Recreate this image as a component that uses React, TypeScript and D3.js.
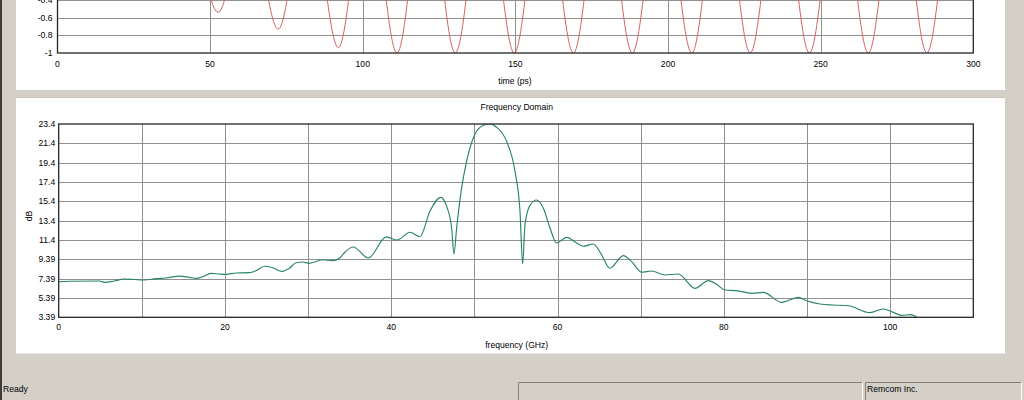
import React from "react";
import * as d3 from "d3";

// ---------- Time domain (top plot, mostly scrolled out of view) ----------
const timeTicks = [0, 50, 100, 150, 200, 250, 300];
const timeTickLabels = ["0", "50", "100", "150", "200", "250", "300"];
const ampTicks = [-1, -0.8, -0.6, -0.4, -0.2, 0, 0.2, 0.4, 0.6, 0.8, 1];
const ampTickLabels = ["-1", "-0.8", "-0.6", "-0.4", "-0.2", "0", "0.2", "0.4", "0.6", "0.8", "1"];
// extrema of the red waveform (time in ps, amplitude)
const timePs = [0, 4.5, 14.2, 23.8, 33.4, 43.0, 52.6, 62.4, 72.3, 82.1, 92.0, 101.6, 111.2, 120.8, 130.3, 140.0, 149.6, 159.3, 169.0, 178.6, 188.3, 198.0, 207.8, 217.3, 226.9, 236.6, 246.3, 256.0, 265.6, 275.2, 284.8, 294.4, 300];
const timeAmp = [0, 0.02, -0.05, 0.12, -0.33, 0.44, -0.54, 0.64, -0.73, 0.85, -0.94, 0.98, -1, 1, -1, 1, -1, 1, -1, 1, -1, 1, -1, 1, -1, 1, -1, 1, -1, 1, -1, 1, -0.25];

// ---------- Frequency domain (bottom plot) ----------
const freqTicks = [0, 20, 40, 60, 80, 100];
const freqTickLabels = ["0", "20", "40", "60", "80", "100"];
const freqGrid = [10, 20, 30, 40, 50, 60, 70, 80, 90, 100];
const dbTicks = [3.39, 5.39, 7.39, 9.39, 11.4, 13.4, 15.4, 17.4, 19.4, 21.4, 23.4];
const dbTickLabels = ["3.39", "5.39", "7.39", "9.39", "11.4", "13.4", "15.4", "17.4", "19.4", "21.4", "23.4"];
const freqGHz = [0.08, 1.28, 4.89, 5.49, 6.69, 7.89, 9.1, 10.3, 11.7, 12.9, 14.51, 15.71, 16.51, 17.31, 18.32, 19.32, 20.12, 21.32, 22.93, 23.73, 24.73, 25.73, 26.86, 27.74, 28.54, 29.34, 30.14, 31.75, 32.95, 33.75, 34.47, 35.43, 37.24, 39.4, 40.7, 42.25, 43.45, 44.65, 45.94, 46.66, 47.26, 47.54, 47.86, 48.46, 49.06, 49.95, 51.07, 51.79, 52.67, 53.87, 54.88, 55.48, 55.8, 56.08, 56.68, 57.48, 58.28, 59.09, 59.89, 61.09, 62.29, 63.09, 64.3, 65.2, 66.3, 67.9, 68.91, 70.11, 71.31, 72.92, 74.52, 76.52, 78.13, 79.13, 80.13, 81.54, 83.34, 84.74, 86.95, 88.95, 89.95, 91.56, 93.16, 94.97, 97.57, 99.17, 100.38, 101.38, 102.38, 103.18];
const dbValues = [7.08, 7.12, 7.15, 7.01, 7.15, 7.35, 7.3, 7.25, 7.39, 7.46, 7.66, 7.53, 7.42, 7.59, 7.94, 7.87, 7.84, 7.98, 8.01, 8.21, 8.67, 8.52, 8.15, 8.46, 9.04, 9.11, 8.98, 9.35, 9.25, 9.5, 10.18, 10.67, 9.53, 11.72, 11.39, 12.19, 11.73, 14.36, 15.81, 14.88, 12.63, 9.94, 12.63, 16.78, 19.54, 22.13, 23.27, 23.4, 23.06, 21.61, 18.5, 14.36, 8.91, 12.98, 14.98, 15.53, 14.7, 12.63, 11.08, 11.67, 11.08, 10.74, 10.98, 10.0, 8.47, 9.77, 9.15, 8.05, 8.18, 7.77, 7.87, 6.39, 7.18, 6.8, 6.22, 6.15, 5.87, 5.97, 4.94, 5.46, 5.11, 4.77, 4.66, 4.59, 3.87, 4.25, 3.9, 3.59, 3.66, 3.45];

const FONT = "'Liberation Sans', Arial, sans-serif";
const FS = 8.6;
const GRID = "#909090";
const FRAME = "#262626";
const BG = "#d4d0c8";

const crisp = (v: number) => Math.round(v) + 0.5;

export default function App() {
  const W = 1024;
  const H = 400;
  const tp = { left: 57.5, right: 973.3, top: -123.7, bottom: 53 };
  const bp = { left: 58.7, right: 973.3, top: 124, bottom: 317.3 };

  const xT = d3.scaleLinear().domain([0, 300]).range([tp.left, tp.right]);
  const yT = d3.scaleLinear().domain([-1, 1]).range([tp.bottom, tp.top]);
  const xF = d3.scaleLinear().domain([0, 110]).range([bp.left, bp.right]);
  const yF = d3.scaleLinear().domain([3.39, 23.4]).range([bp.bottom, bp.top]);

  const redPath =
    d3
      .line<number>()
      .x((_, i) => xT(timePs[i]))
      .y((d) => yT(d))
      .curve(d3.curveMonotoneX)(timeAmp) || "";

  const greenPath =
    d3
      .line<number>()
      .x((_, i) => xF(freqGHz[i]))
      .y((d) => yF(d))
      .curve(d3.curveMonotoneX)(dbValues) || "";

  // only the tick labels of the top plot that lie (at least partly) in the visible window
  const visibleAmp = ampTicks.map((v, i) => ({ v, label: ampTickLabels[i] })).filter((d) => yT(d.v) > -2);

  return (
    <svg
      width={W}
      height={H}
      viewBox={`0 0 ${W} ${H}`}
      style={{ position: "absolute", left: 0, top: 0, display: "block" }}
      fontFamily={FONT}
      fontSize={FS}
    >
      <defs>
        <clipPath id="clipTop">
          <rect x={tp.left} y={tp.top} width={tp.right - tp.left} height={tp.bottom - tp.top} />
        </clipPath>
        <clipPath id="clipBot">
          <rect x={bp.left} y={bp.top} width={bp.right - bp.left} height={bp.bottom - bp.top} />
        </clipPath>
      </defs>

      {/* window background */}
      <rect x={0} y={0} width={W} height={H} fill={BG} />
      <rect x={0} y={0} width={2} height={H} fill="#3c3c3c" />

      {/* panels */}
      <rect x={16} y={-2} width={989} height={92} fill="#ffffff" />
      <rect x={16} y={98} width={989} height={255.5} fill="#ffffff" />
      <line x1={16} x2={1005} y1={97.5} y2={97.5} stroke="#c8c4bc" />

      {/* ---------- top plot ---------- */}
      <g>
        {ampTicks.slice(1, -1).map((v) => (
          <line key={"ha" + v} x1={tp.left} x2={tp.right} y1={crisp(yT(v))} y2={crisp(yT(v))} stroke={GRID} />
        ))}
        {timeTicks.slice(1, -1).map((t) => (
          <line key={"vt" + t} x1={crisp(xT(t))} x2={crisp(xT(t))} y1={tp.top} y2={tp.bottom} stroke={GRID} />
        ))}
        <path d={redPath} fill="none" stroke="#d46464" strokeWidth={1} clipPath="url(#clipTop)" />
        <rect
          x={tp.left}
          y={tp.top}
          width={tp.right - tp.left}
          height={tp.bottom - tp.top}
          fill="none"
          stroke={FRAME}
          strokeWidth={1.3}
        />
        {visibleAmp.map((d) => (
          <text key={"la" + d.v} x={tp.left - 5} y={yT(d.v)} dy="0.36em" textAnchor="end" fill="#000">
            {d.label}
          </text>
        ))}
        {timeTicks.map((t, i) => (
          <text key={"lt" + t} x={xT(t)} y={66.7} textAnchor="middle" fill="#000">
            {timeTickLabels[i]}
          </text>
        ))}
        <text x={515} y={84} textAnchor="middle" fill="#000">
          time (ps)
        </text>
      </g>

      {/* ---------- bottom plot ---------- */}
      <g>
        <text x={516.7} y={109.5} textAnchor="middle" fill="#000">
          Frequency Domain
        </text>
        {dbTicks.slice(1, -1).map((v) => (
          <line key={"hd" + v} x1={bp.left} x2={bp.right} y1={crisp(yF(v))} y2={crisp(yF(v))} stroke={GRID} />
        ))}
        {freqGrid.map((f) => (
          <line key={"vf" + f} x1={crisp(xF(f))} x2={crisp(xF(f))} y1={bp.top} y2={bp.bottom} stroke={GRID} />
        ))}
        <path d={greenPath} fill="none" stroke="#2a8564" strokeWidth={1.15} clipPath="url(#clipBot)" />
        <rect
          x={bp.left}
          y={bp.top}
          width={bp.right - bp.left}
          height={bp.bottom - bp.top}
          fill="none"
          stroke={FRAME}
          strokeWidth={1.3}
        />
        {dbTicks.map((v, i) => (
          <text key={"ld" + v} x={bp.left - 3.5} y={yF(v)} dy="0.36em" textAnchor="end" fill="#000">
            {dbTickLabels[i]}
          </text>
        ))}
        {freqTicks.map((f, i) => (
          <text key={"lf" + f} x={xF(f)} y={330} textAnchor="middle" fill="#000">
            {freqTickLabels[i]}
          </text>
        ))}
        <text x={516.7} y={348} textAnchor="middle" fill="#000">
          frequency (GHz)
        </text>
        <text x={31.5} y={216} textAnchor="middle" fill="#000" transform="rotate(-90 31.5 216)">
          dB
        </text>
      </g>

      {/* ---------- status bar ---------- */}
      <g>
        <text x={3} y={392} fill="#000">
          Ready
        </text>
        {/* pane 1 */}
        <line x1={518.5} x2={862} y1={382.5} y2={382.5} stroke="#808080" />
        <line x1={518.5} x2={518.5} y1={382.5} y2={400} stroke="#808080" />
        <line x1={862.5} x2={862.5} y1={382.5} y2={400} stroke="#ffffff" />
        {/* pane 2 */}
        <line x1={865.5} x2={1021} y1={382.5} y2={382.5} stroke="#808080" />
        <line x1={865.5} x2={865.5} y1={382.5} y2={400} stroke="#808080" />
        <line x1={1021.5} x2={1021.5} y1={382.5} y2={400} stroke="#ffffff" />
        <text x={867} y={392} fill="#000">
          Remcom Inc.
        </text>
      </g>
    </svg>
  );
}
